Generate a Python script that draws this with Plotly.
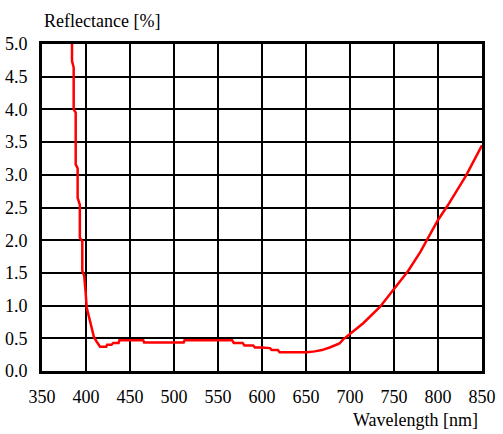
import plotly.graph_objects as go

wavelength = [384.1, 384.1, 386, 386, 388.3, 388.3, 390.5, 390.5, 393, 393, 395.8, 395.8,
              398, 398.5, 399.6, 400.8, 402.5, 404.5, 406, 409, 412, 416, 423, 424,
              429, 431, 437, 438, 465, 466, 511, 512, 566, 568, 578, 580, 590, 592,
              600, 609, 611, 618, 620, 651, 660, 668, 677, 688, 692, 700, 715, 734,
              750, 766, 780, 790, 800, 811, 832, 850]
reflectance = [5.0, 4.74, 4.64, 4.0, 3.95, 3.16, 3.1, 2.65, 2.54, 2.04, 1.98, 1.53,
               1.45, 1.29, 1.2, 0.97, 0.87, 0.77, 0.65, 0.52, 0.45, 0.37, 0.37, 0.40,
               0.40, 0.43, 0.43, 0.47, 0.47, 0.435, 0.435, 0.47, 0.47, 0.43, 0.43, 0.39,
               0.39, 0.36, 0.36, 0.35, 0.32, 0.32, 0.285, 0.285, 0.30, 0.32, 0.36, 0.42,
               0.48, 0.57, 0.73, 0.98, 1.25, 1.53, 1.82, 2.06, 2.31, 2.53, 2.99, 3.45]

x_ticks = [350, 400, 450, 500, 550, 600, 650, 700, 750, 800, 850]
y_ticks = [0.0, 0.5, 1.0, 1.5, 2.0, 2.5, 3.0, 3.5, 4.0, 4.5, 5.0]

FONT = "Liberation Serif"

fig = go.Figure()
fig.add_trace(go.Scatter(x=wavelength, y=reflectance, mode="lines",
                         line=dict(color="#ff0000", width=2.5), showlegend=False))

fig.update_layout(
    template="none",
    width=503, height=434,
    margin=dict(l=42, r=21, t=44, b=63),
    paper_bgcolor="white", plot_bgcolor="white",
    font=dict(family=FONT, size=18),
    xaxis=dict(range=[350, 850], tickvals=x_ticks, ticktext=[str(v) for v in x_ticks],
               showgrid=True, gridcolor="#000000", gridwidth=2,
               showline=True, linecolor="#000000", linewidth=3, mirror=True,
               zeroline=False, ticks="", ticklabelstandoff=7,
               tickfont=dict(family=FONT, size=18, color="#000000")),
    yaxis=dict(range=[0, 5], tickvals=y_ticks, ticktext=[f"{v:.1f}" for v in y_ticks],
               showgrid=True, gridcolor="#000000", gridwidth=2,
               showline=True, linecolor="#000000", linewidth=3, mirror=True,
               zeroline=False, ticks="", ticklabelstandoff=8,
               tickfont=dict(family=FONT, size=18, color="#000000")),
)
fig.add_annotation(text="Reflectance [%]", xref="paper", yref="paper", x=0, y=1.07,
                   xanchor="left", yanchor="middle", showarrow=False,
                   font=dict(family=FONT, size=18, color="#000000"))
fig.add_annotation(text="Wavelength [nm]", xref="paper", yref="paper", x=0.995, y=-0.15,
                   xanchor="right", yanchor="middle", showarrow=False,
                   font=dict(family=FONT, size=18, color="#000000"))

fig.write_html("out.html")
